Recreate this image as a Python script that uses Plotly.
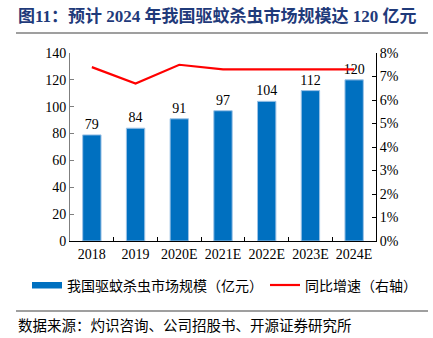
import plotly.graph_objects as go

years = ["2018", "2019", "2020E", "2021E", "2022E", "2023E", "2024E"]
market_size = [79, 84, 91, 97, 104, 112, 120]
growth = [0.074, 0.067, 0.075, 0.073, 0.073, 0.073, 0.073]
left_ticks = [0, 20, 40, 60, 80, 100, 120, 140]
right_ticks = [0, 0.01, 0.02, 0.03, 0.04, 0.05, 0.06, 0.07, 0.08]

serif = "Liberation Serif, Times New Roman, Noto Sans CJK SC"
cjk = "Noto Sans CJK SC, Liberation Serif"
title_font = "Liberation Serif, Noto Sans CJK SC"

fig = go.Figure()
fig.add_trace(go.Bar(
    x=years, y=market_size, name="我国驱蚊杀虫市场规模（亿元）",
    marker=dict(color="#0070C0", line=dict(color="#9DC3E6", width=1)),
    width=0.42,
    text=[str(v) for v in market_size], textposition="outside",
    textfont=dict(family=serif, size=14, color="#000000"),
    constraintext="none",
    cliponaxis=False, showlegend=False,
))
fig.add_trace(go.Scatter(
    x=years, y=growth, name="同比增速（右轴）", yaxis="y2", mode="lines",
    line=dict(color="#FF0000", width=2.2), showlegend=False,
))

W, H = 433, 338
L, R, T, B = 70, 376, 53, 241
pw, ph = R - L, B - T

def px(x):
    return (x - L) / pw

def py(y):
    return (B - y) / ph

fig.update_layout(
    width=W, height=H,
    margin=dict(l=L, r=W - R, t=T, b=H - B),
    paper_bgcolor="white", plot_bgcolor="white",
    xaxis=dict(
        type="category", showline=True, linecolor="#000000", linewidth=1,
        ticks="inside", tickson="boundaries", ticklen=4, tickcolor="#000000",
        tickangle=0,
        tickfont=dict(family=serif, size=14, color="#000000"),
        showgrid=False,
    ),
    yaxis=dict(
        range=[0, 140], tickvals=left_ticks, showline=True, linecolor="#7F7F7F",
        linewidth=1, ticks="inside", ticklen=4, tickcolor="#7F7F7F",
        tickfont=dict(family=serif, size=14, color="#000000"),
        showgrid=False, zeroline=False,
    ),
    yaxis2=dict(
        range=[0, 0.08], tickvals=right_ticks, tickformat=".0%", overlaying="y",
        side="right", showline=True, linecolor="#000000", linewidth=1,
        ticks="inside", ticklen=4, tickcolor="#000000",
        tickfont=dict(family=serif, size=14, color="#000000"),
        showgrid=False, zeroline=False,
    ),
)

shapes = [
    dict(type="line", xref="paper", yref="paper", x0=px(16), x1=px(428), y0=py(33), y1=py(33),
         line=dict(color="#7F7F7F", width=1.5)),
    dict(type="line", xref="paper", yref="paper", x0=px(16), x1=px(428), y0=py(311), y1=py(311),
         line=dict(color="#7F7F7F", width=1.5)),
    dict(type="rect", xref="paper", yref="paper", x0=px(32), x1=px(62), y0=py(288.5), y1=py(282),
         fillcolor="#0070C0", line=dict(width=0)),
    dict(type="line", xref="paper", yref="paper", x0=px(270), x1=px(300), y0=py(285), y1=py(285),
         line=dict(color="#FF0000", width=2.2)),
]
fig.update_layout(shapes=shapes)

annotations = [
    dict(text="<b>图11：预计 2024 年我国驱蚊杀虫市场规模达 120 亿元</b>", xref="paper", yref="paper",
         x=px(16), y=py(16), xanchor="left", yanchor="middle", showarrow=False,
         font=dict(family=title_font, size=17, color="#1F3A7A")),
    dict(text="我国驱蚊杀虫市场规模（亿元）", xref="paper", yref="paper",
         x=px(65), y=py(285), xanchor="left", yanchor="middle", showarrow=False,
         font=dict(family=cjk, size=14, color="#000000")),
    dict(text="同比增速（右轴）", xref="paper", yref="paper",
         x=px(303), y=py(285), xanchor="left", yanchor="middle", showarrow=False,
         font=dict(family=cjk, size=14, color="#000000")),
    dict(text="数据来源：灼识咨询、公司招股书、开源证券研究所", xref="paper", yref="paper",
         x=px(16), y=py(324), xanchor="left", yanchor="middle", showarrow=False,
         font=dict(family=cjk, size=14.5, color="#000000")),
]
fig.update_layout(annotations=annotations)

fig.write_html("out.html")
